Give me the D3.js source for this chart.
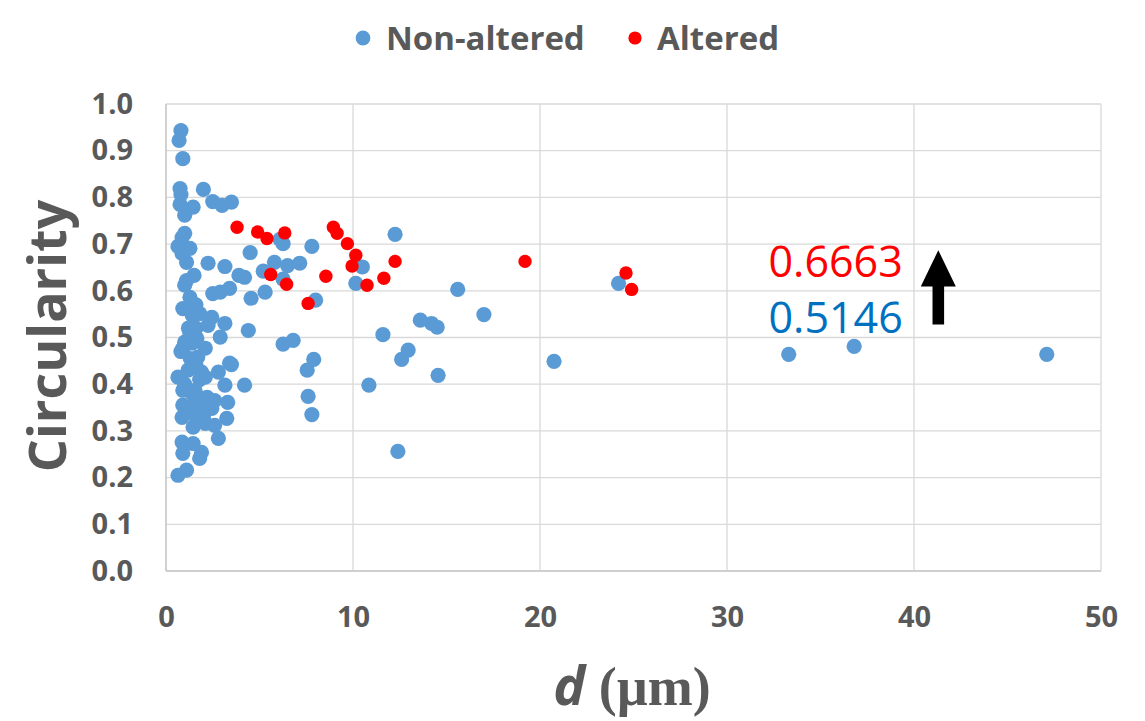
<html>
<head>
<title>Circularity vs d</title>
<script src="https://cdn.jsdelivr.net/npm/d3@7"></script>
</head>
<body style='margin: 0;padding: 0;background: white'>
<div id="chart"></div>
<script>

// non-altered particles: [d (um), circularity]
var nonAltered = [
  [0.8,0.943],[0.7,0.922],[0.9,0.883],[0.75,0.819],[0.8,0.806],[0.75,0.785],
  [2.0,0.817],[2.5,0.791],[3.0,0.783],[3.5,0.79],[1.45,0.779],[1.0,0.762],
  [1.0,0.723],[0.86,0.714],[0.64,0.695],[1.28,0.691],[0.86,0.68],[1.1,0.661],
  [4.5,0.682],[2.25,0.659],[3.15,0.652],[3.9,0.633],[4.2,0.629],[1.5,0.633],
  [1.1,0.622],[1.0,0.612],[5.2,0.642],[5.3,0.597],[1.28,0.586],[2.5,0.594],
  [2.9,0.597],[3.4,0.605],[4.55,0.584],[0.9,0.562],[1.4,0.548],[1.8,0.551],
  [2.45,0.543],[3.15,0.53],[4.4,0.515],[2.25,0.526],[2.9,0.501],[1.28,0.509],
  [1.65,0.498],[0.9,0.477],[1.4,0.488],[2.1,0.477],[1.7,0.458],[3.4,0.445],
  [1.18,0.43],[0.64,0.415],[1.9,0.426],[2.8,0.426],[2.1,0.415],[3.15,0.398],
  [4.2,0.398],[0.9,0.387],[1.55,0.387],[2.2,0.372],[2.6,0.365],[3.3,0.361],
  [0.9,0.355],[1.9,0.344],[2.45,0.348],[0.86,0.329],[1.45,0.308],[2.1,0.316],
  [2.6,0.312],[3.25,0.327],[2.8,0.284],[0.86,0.276],[1.45,0.273],[0.9,0.252],
  [1.9,0.254],[1.8,0.241],[1.1,0.216],[0.64,0.205],
  [1.2,0.52],[1.6,0.52],[1.0,0.49],[1.3,0.455],[1.6,0.44],[1.8,0.41],
  [1.0,0.4],[1.4,0.38],[1.8,0.37],[1.6,0.33],[2.0,0.33],[1.3,0.35],
  [0.8,0.47],[1.2,0.56],[1.6,0.57],
  [6.1,0.71],[6.26,0.701],[7.8,0.695],[12.25,0.721],[5.8,0.661],[6.5,0.654],
  [7.15,0.659],[6.26,0.625],[10.5,0.651],[10.15,0.616],[8.0,0.58],[13.6,0.537],
  [11.6,0.506],[6.26,0.486],[6.8,0.494],[12.95,0.473],[12.6,0.453],[7.9,0.453],
  [7.55,0.43],[3.5,0.442],[10.85,0.398],[7.6,0.374],[7.8,0.335],[12.4,0.256],
  [15.6,0.603],[17.0,0.549],[14.2,0.53],[14.5,0.522],[14.55,0.419],[20.75,0.449],
  [24.2,0.616],[33.3,0.464],[36.8,0.481],[47.1,0.464]
]

// altered particles
var altered = [
  [3.8,0.736],[4.9,0.726],[5.4,0.712],[6.35,0.724],[8.95,0.736],[9.15,0.723],
  [9.7,0.701],[10.15,0.676],[9.95,0.653],[12.25,0.663],[5.6,0.635],[6.45,0.614],
  [8.55,0.631],[11.65,0.627],[10.75,0.612],[7.6,0.573],[19.2,0.663],[24.6,0.638],
  [24.9,0.603]
]

var seriesNames = ['Non-altered', 'Altered']
var meanLabels = ['0.6663', '0.5146']
var xTicks = [0, 10, 20, 30, 40, 50]
var yTicks = [0, 0.1, 0.2, 0.3, 0.4, 0.5, 0.6, 0.7, 0.8, 0.9, 1.0]

var blue = '#5b9bd5'
var red = '#ff0000'
var grey_text = '#595959'
var grid_colour = '#d9d9d9'
var font = "'Open Sans', sans-serif"

var W = 1145, H = 721
var plotL = 166, plotR = 1101, plotT = 104, plotB = 571

var x = d3.scaleLinear().domain([0, 50]).range([plotL, plotR])
var y = d3.scaleLinear().domain([0, 1]).range([plotB, plotT])

var svg = d3.select('#chart').append('svg').attr('width', W).attr('height', H)

// gridlines
svg.append('g').selectAll('line').data(yTicks).enter().append('line')
  .attr('x1', plotL).attr('x2', plotR)
  .attr('y1', d => y(d)).attr('y2', d => y(d))
  .style('stroke', grid_colour).style('stroke-width', '1.3px')

svg.append('g').selectAll('line').data(xTicks).enter().append('line')
  .attr('x1', d => x(d)).attr('x2', d => x(d))
  .attr('y1', plotT).attr('y2', plotB)
  .style('stroke', grid_colour).style('stroke-width', '1.3px')

// axis lines
svg.append('line').attr('x1', plotL).attr('x2', plotL).attr('y1', plotT).attr('y2', plotB)
  .style('stroke', '#c8c8c8').style('stroke-width', '1.5px')
svg.append('line').attr('x1', plotL).attr('x2', plotR).attr('y1', plotB).attr('y2', plotB)
  .style('stroke', '#c8c8c8').style('stroke-width', '1.5px')

// axes (labels only)
svg.append('g').attr('transform', 'translate(' + plotL + ',0)')
  .call(d3.axisLeft(y).tickValues(yTicks).tickFormat(d3.format('.1f')).tickSize(0).tickPadding(33))
svg.append('g').attr('transform', 'translate(0,' + plotB + ')')
  .call(d3.axisBottom(x).tickValues(xTicks).tickSize(0).tickPadding(35))

svg.selectAll('.domain').remove()
svg.selectAll('.tick text')
  .style('fill', grey_text)
  .attr('font-family', font)
  .attr('font-size', 29)
  .attr('font-weight', 700)

// points
svg.append('g').selectAll('circle').data(nonAltered).enter().append('circle')
  .attr('cx', d => x(d[0])).attr('cy', d => y(d[1])).attr('r', 7.6)
  .style('fill', blue)

svg.append('g').selectAll('circle').data(altered).enter().append('circle')
  .attr('cx', d => x(d[0])).attr('cy', d => y(d[1])).attr('r', 6.7)
  .style('fill', red)

// axis titles
svg.append('text')
  .text('Circularity')
  .attr('transform', 'translate(66,336) rotate(-90)')
  .attr('text-anchor', 'middle')
  .style('fill', grey_text)
  .attr('font-family', font)
  .attr('font-size', 52)
  .attr('font-weight', 700)

var xt = svg.append('text')
  .attr('x', 632).attr('y', 705)
  .attr('text-anchor', 'middle')
  .style('fill', grey_text)
  .attr('font-size', 54)
  .attr('font-weight', 700)
xt.append('tspan').text('d').attr('font-family', font).attr('font-style', 'italic')
xt.append('tspan').text(' (µm)').attr('font-family', "'Liberation Serif', 'DejaVu Serif', serif")

// legend
var legend = [{name: seriesNames[0], colour: blue, r: 7.4, cx: 363, tx: 386},
              {name: seriesNames[1], colour: red, r: 6.6, cx: 635, tx: 657}]
legend.forEach(l => {
  svg.append('circle').attr('cx', l.cx).attr('cy', 38).attr('r', l.r).style('fill', l.colour)
  svg.append('text').text(l.name)
    .attr('x', l.tx).attr('y', 50)
    .style('fill', grey_text)
    .attr('font-family', font)
    .attr('font-size', 33)
    .attr('font-weight', 700)
})

// mean annotations
svg.append('text').text(meanLabels[0])
  .attr('x', x(39.4)).attr('y', y(0.629))
  .attr('text-anchor', 'end')
  .style('fill', red)
  .attr('font-family', font)
  .attr('font-size', 43)

svg.append('text').text(meanLabels[1])
  .attr('x', x(39.4)).attr('y', y(0.509))
  .attr('text-anchor', 'end')
  .style('fill', '#0070c0')
  .attr('font-family', font)
  .attr('font-size', 43)

// upward arrow
var ax = x(41.3), head = 17.5, shaft = 5.8
var arrowPts = [
  [ax, y(0.687)], [ax + head, y(0.609)], [ax + shaft, y(0.609)], [ax + shaft, y(0.528)],
  [ax - shaft, y(0.528)], [ax - shaft, y(0.609)], [ax - head, y(0.609)]
]
svg.append('polygon')
  .attr('points', arrowPts.map(p => p.join(',')).join(' '))
  .style('fill', 'black')

</script>
</body>
</html>
